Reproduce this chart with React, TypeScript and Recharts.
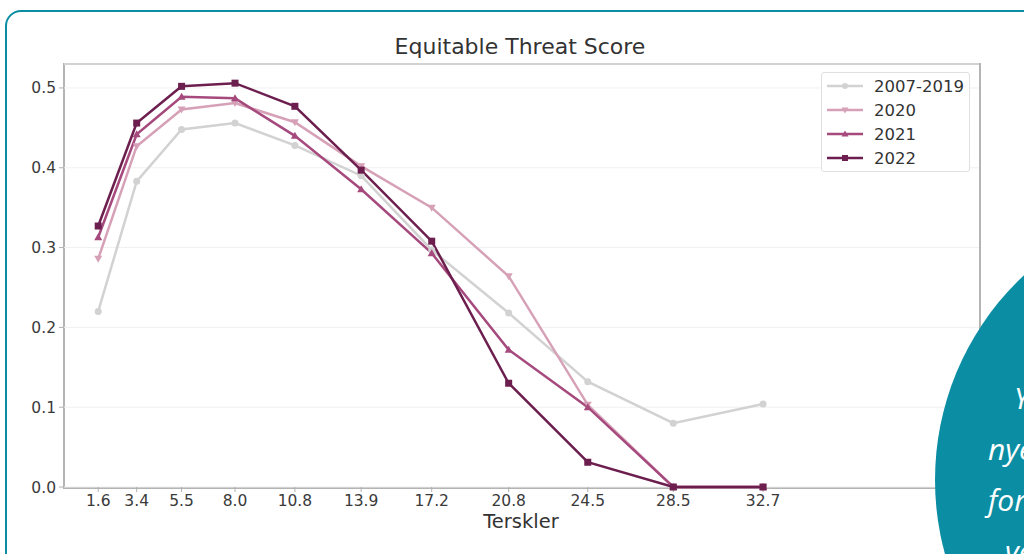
import React from 'react';
import {
    LineChart,
    Line,
    XAxis,
    YAxis,
    CartesianGrid
} from 'recharts';

const thresholds = [1.6, 3.4, 5.5, 8.0, 10.8, 13.9, 17.2, 20.8, 24.5, 28.5, 32.7];
const yTicks = [0, 0.1, 0.2, 0.3, 0.4, 0.5];

const ets20072019 = [0.22, 0.383, 0.448, 0.456, 0.428, 0.39, 0.297, 0.218, 0.132, 0.08, 0.104];
const ets2020 = [0.286, 0.427, 0.473, 0.481, 0.457, 0.402, 0.35, 0.264, 0.103, 0.0, 0.0];
const ets2021 = [0.313, 0.442, 0.489, 0.487, 0.44, 0.373, 0.293, 0.172, 0.1, 0.0, 0.0];
const ets2022 = [0.327, 0.456, 0.502, 0.506, 0.477, 0.397, 0.308, 0.13, 0.031, 0.0, 0.0];

const series = [
    { key: '2007-2019', values: ets20072019, color: '#d2d2d2', marker: 'circle' },
    { key: '2020', values: ets2020, color: '#d6a1b7', marker: 'down' },
    { key: '2021', values: ets2021, color: '#a64a7e', marker: 'up' },
    { key: '2022', values: ets2022, color: '#6c1e4e', marker: 'square' }
];

const data = thresholds.map((t, i) => {
    const row: Record<string, number> = { t };
    series.forEach(s => { row[s.key] = s.values[i]; });
    return row;
});

const TEAL = '#0b8ea3';
const FONT = '"DejaVu Sans", sans-serif';

function Marker({ cx, cy, color, marker, size = 4 }: any) {
    if (cx == null || cy == null) return null;
    if (marker === 'circle') return <circle cx={cx} cy={cy} r={size - 0.5} fill={color} />;
    if (marker === 'square') return <rect x={cx - size + 0.5} y={cy - size + 0.5} width={(size - 0.5) * 2} height={(size - 0.5) * 2} fill={color} />;
    if (marker === 'down') return <polygon points={`${cx - size},${cy - size + 1} ${cx + size},${cy - size + 1} ${cx},${cy + size}`} fill={color} />;
    return <polygon points={`${cx - size},${cy + size - 1} ${cx + size},${cy + size - 1} ${cx},${cy - size}`} fill={color} />;
}

function LegendBox() {
    return (
        <div style={{ position: 'absolute', left: 821, top: 72, background: 'white', border: '1px solid #e0e0e0', borderRadius: 3, padding: '1px 4px 1px 5px', fontFamily: FONT, fontSize: 16.5, color: '#333', width: 138 }}>
            {series.map(s => (
                <div key={s.key} style={{ display: 'flex', alignItems: 'center', height: 24 }}>
                    <svg width={36} height={12} style={{ marginRight: 11 }}>
                        <line x1={0} y1={6} x2={36} y2={6} stroke={s.color} strokeWidth={2.5} />
                        <Marker cx={18} cy={6} color={s.color} marker={s.marker} size={3.5} />
                    </svg>
                    <span>{s.key}</span>
                </div>
            ))}
        </div>
    );
}

export default function App() {
    return (
        <div style={{ position: 'fixed', left: 0, top: 0, width: 1024, height: 554, overflow: 'hidden', background: 'white' }}>
            {/* rounded teal frame */}
            <div style={{ position: 'absolute', left: 5, top: 10, width: 1100, height: 620, border: `2px solid ${TEAL}`, borderRadius: 16 }} />
            {/* axes frame (behind the plot svg) */}
            <div style={{ position: 'absolute', left: 63, top: 63, width: 914, height: 422, border: '2px solid #b4b4b4' }} />

            <div style={{ position: 'absolute', left: 0, top: 0 }}>
                <LineChart width={1024} height={554} data={data} margin={{ top: 64, right: 45, bottom: 0, left: 0 }}>
                    <CartesianGrid horizontal vertical={false} stroke="#f0f0f0" strokeWidth={1} />
                    <XAxis
                        dataKey="t"
                        type="number"
                        domain={[0, 42.8]}
                        ticks={thresholds}
                        tickFormatter={(v: number) => v.toFixed(1)}
                        axisLine={false}
                        stroke="#b0b0b0"
                        tickSize={5}
                        tickMargin={3}
                        height={67}
                        tick={{ fill: '#3a3a3a', fontSize: 15.5, fontFamily: FONT }}
                        interval={0}
                    />
                    <YAxis
                        type="number"
                        domain={[0, 0.53]}
                        ticks={yTicks}
                        tickFormatter={(v: number) => v.toFixed(1)}
                        axisLine={false}
                        stroke="#b0b0b0"
                        tickSize={5}
                        tickMargin={3}
                        width={64}
                        tick={{ fill: '#3a3a3a', fontSize: 15.5, fontFamily: FONT }}
                        interval={0}
                    />
                    {series.map(s => (
                        <Line
                            key={s.key}
                            type="linear"
                            dataKey={s.key}
                            stroke={s.color}
                            strokeWidth={2.5}
                            dot={(p: any) => <Marker key={`${s.key}-${p.index}`} cx={p.cx} cy={p.cy} color={s.color} marker={s.marker} />}
                            activeDot={false}
                            isAnimationActive={false}
                        />
                    ))}
                </LineChart>
            </div>

            <LegendBox />

            <div style={{ position: 'absolute', left: 0, width: 1040, top: 34, textAlign: 'center', fontFamily: FONT, fontSize: 22, color: '#333' }}>
                Equitable Threat Score
            </div>
            <div style={{ position: 'absolute', left: 0, width: 1042, top: 510, textAlign: 'center', fontFamily: FONT, fontSize: 19.5, color: '#333' }}>
                Terskler
            </div>

            {/* teal bubble overlapping the chart */}
            <div style={{ position: 'absolute', left: 935, top: 200, width: 560, height: 560, borderRadius: '50%', background: TEAL }} />
            <div style={{ position: 'absolute', left: 0, top: 0, fontFamily: '"Open Sans", sans-serif', fontStyle: 'italic', fontSize: 30, color: 'white', whiteSpace: 'nowrap' }}>
                <div style={{ position: 'absolute', left: 1014, top: 377 }}>Yr har</div>
                <div style={{ position: 'absolute', left: 988, top: 428 }}>nye</div>
                <div style={{ position: 'absolute', left: 988, top: 479 }}>for</div>
                <div style={{ position: 'absolute', left: 1005, top: 530 }}>ved</div>
            </div>
        </div>
    );
}
